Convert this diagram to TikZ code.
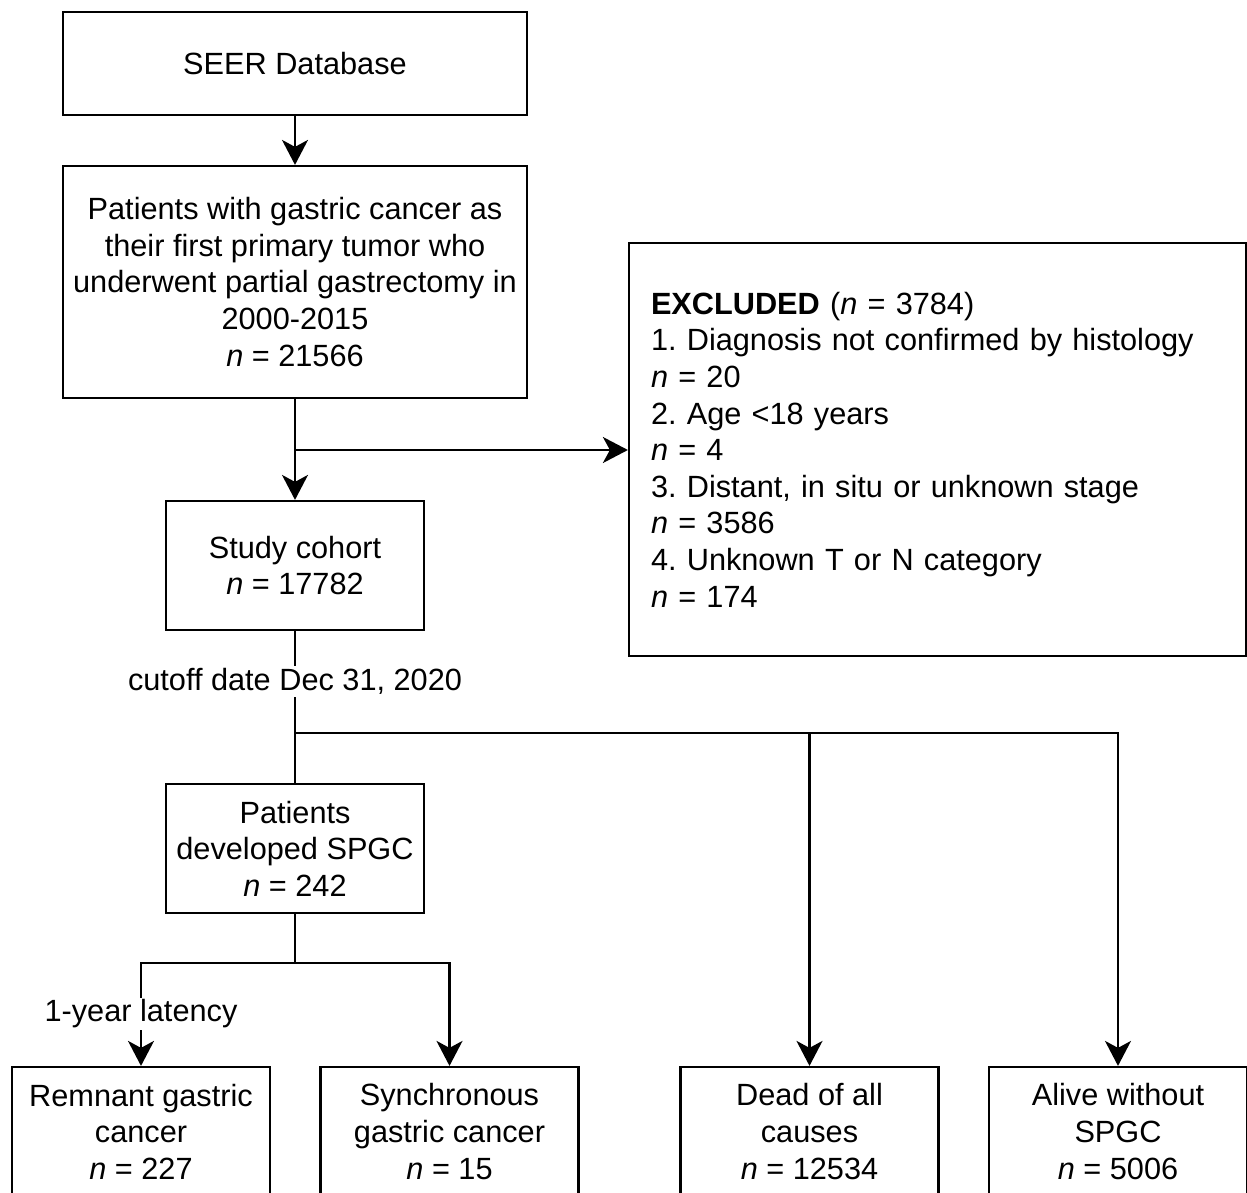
\documentclass[tikz,border=0pt]{standalone}
\usepackage{fontspec}
\setmainfont{Liberation Sans}
\usetikzlibrary{arrows.meta}
\frenchspacing
\begin{document}
\begin{tikzpicture}[x=1pt,y=-1pt,
  txt/.style={font=\fontsize{30.7}{36.6}\selectfont},
  box/.style={txt, draw, line width=2.2pt, align=center, inner sep=0pt},
  smallbox/.style={box, minimum width=258, minimum height=129},
  conn/.style={line width=2.2pt},
  arr/.style={conn, -{Stealth[length=25pt,width=26pt,inset=7pt]}},
  lbl/.style={txt, fill=white, inner sep=2pt}]
\useasboundingbox (0,0) rectangle (1247,1193);
\clip (0,0) rectangle (1247,1193);
\fill[white] (0,0) rectangle (1247,1193);

\node[box, minimum width=464, minimum height=103] (seer) at (295,63.5) {SEER Database};
\node[box, minimum width=464, minimum height=232] (pat) at (295,282)
  {Patients with gastric cancer as\\their first primary tumor who\\underwent partial gastrectomy in\\2000-2015\\\textit{n} = 21566};
\node[box, minimum width=617, minimum height=413, align=left, text width=573] (excl) at (937.5,449.5)
  {\textbf{EXCLUDED} (\textit{n} = 3784)\\1. Diagnosis not confirmed by histology\\\textit{n} = 20\\2. Age <18 years\\\textit{n} = 4\\3. Distant, in situ or unknown stage\\\textit{n} = 3586\\4. Unknown T or N category\\\textit{n} = 174};
\node[smallbox] (study) at (295,565.5) {Study cohort\\\textit{n} = 17782};
\node[smallbox] (spgc) at (295,848.5) {Patients\\developed SPGC\\\textit{n} = 242};
\node[smallbox] (rem) at (141,1131.5) {Remnant gastric\\cancer\\\textit{n} = 227};
\node[smallbox] (syn) at (449.5,1131.5) {Synchronous\\gastric cancer\\\textit{n} = 15};
\node[smallbox] (dead) at (809.5,1131.5) {Dead of all\\causes\\\textit{n} = 12534};
\node[smallbox] (alive) at (1118,1131.5) {Alive without\\SPGC\\\textit{n} = 5006};

\coordinate (b1) at (295,450);
\coordinate (b2) at (295,733);
\coordinate (b3) at (295,963);

\draw[arr] (seer.south) -- (pat.north);
\draw[arr] (pat.south) -- (study.north);
\draw[arr] (b1) -- (excl.west |- b1);
\draw[conn] (study.south) -- (spgc.north);
\draw[arr] (b2) -| (alive.north);
\draw[arr] (b2 -| dead.north) -- (dead.north);
\node[lbl] (cut) at (295,681.5) {cutoff date Dec 31, 2020};
\draw[conn] (spgc.south) -- (b3);
\draw[arr] (b3) -| (syn.north);
\draw[arr] (b3) -| (rem.north);
\node[lbl] (lat) at (141,1014) {1-year latency};
\end{tikzpicture}
\end{document}
